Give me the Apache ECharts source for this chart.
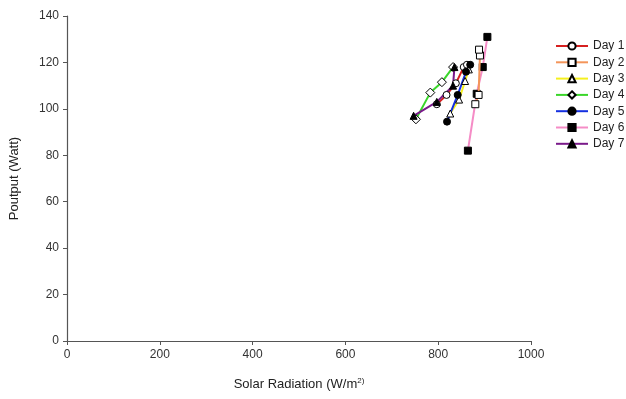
<!DOCTYPE html>
<html>
<head>
<meta charset="utf-8">
<script src="https://cdn.jsdelivr.net/npm/echarts@6/dist/echarts.min.js"></script>
<style>
  html, body { margin: 0; padding: 0; background: #fff; }
  #chart { width: 626px; height: 399px; }
</style>
</head>
<body>
<div id="chart"></div>
<script>
// data: [solar radiation, output]
var day1 = [[797, 102], [818, 106], [838, 111], [855, 118], [862, 119]];
var day2 = [[880, 102], [887, 106], [890, 123], [888, 125.5]];
var day3 = [[826, 98], [845, 104], [858, 112], [866, 117]];
var day4 = [[752, 95.5], [783, 107], [808, 111.5], [832, 118]];
var day5 = [[819, 94.5], [842, 106], [860, 116], [869, 119]];
var day6 = [[864, 82], [883, 106.5], [896, 118], [906, 131]];
var day7 = [[747, 97], [797, 103], [832, 110], [835, 118]];

var dayNames = ['Day 1', 'Day 2', 'Day 3', 'Day 4', 'Day 5', 'Day 6', 'Day 7'];
var dayData = [day1, day2, day3, day4, day5, day6, day7];
var lineColors = ['#d62020', '#f4955a', '#f5f01e', '#3ad62a', '#1530e0', '#f58cc6', '#7a1a8a'];
var symbols = ['circle', 'rect', 'triangle', 'diamond', 'circle', 'rect', 'triangle'];
var filled = [false, false, false, false, true, true, true];

var xTicks = { min: 0, max: 1000, interval: 200 };
var yTicks = { min: 0, max: 140, interval: 20 };

var chart = echarts.init(document.getElementById('chart'));

var series = dayNames.map(function (name, i) {
  return {
    name: name,
    type: 'line',
    data: dayData[i],
    symbol: symbols[i],
    symbolSize: symbols[i] == 'diamond' ? 9 : 7,
    lineStyle: { color: lineColors[i], width: 2 },
    itemStyle: {
      color: filled[i] ? '#000' : '#fff',
      borderColor: '#000',
      borderWidth: 1
    },
    z: i == 5 ? 1 : 2
  };
});

chart.setOption({
  backgroundColor: '#fff',
  animation: false,
  grid: { left: 66, right: 95, top: 16, bottom: 58 },
  legend: {
    orient: 'vertical',
    left: 555,
    top: 38,
    padding: 0,
    itemGap: 0.3,
    itemWidth: 32,
    itemHeight: 9,
    textStyle: { fontFamily: 'Liberation Sans', fontSize: 12, lineHeight: 16, color: '#222' },
    data: dayNames
  },
  xAxis: {
    type: 'value',
    min: xTicks.min, max: xTicks.max, interval: xTicks.interval,
    name: 'Solar Radiation (W/m{sup|2)}',
    nameLocation: 'middle',
    nameGap: 36,
    nameTextStyle: {
      fontFamily: 'Liberation Sans', fontSize: 13, color: '#222',
      rich: { sup: { fontSize: 8, verticalAlign: 'top', padding: [0, 0, 7, 0], color: '#222' } }
    },
    splitLine: { show: false },
    axisLine: { lineStyle: { color: '#555', width: 1.2 } },
    axisTick: { show: true, length: 4, lineStyle: { color: '#555' } },
    axisLabel: {
      fontFamily: 'Liberation Sans', fontSize: 12, color: '#333', margin: 8,
      formatter: function (v) { return String(v); }
    }
  },
  yAxis: {
    type: 'value',
    min: yTicks.min, max: yTicks.max, interval: yTicks.interval,
    name: 'Poutput (Watt)',
    nameLocation: 'middle',
    nameGap: 46,
    nameTextStyle: { fontFamily: 'Liberation Sans', fontSize: 13, color: '#222' },
    splitLine: { show: false },
    axisLine: { show: true, lineStyle: { color: '#555', width: 1.2 } },
    axisTick: { show: true, length: 4, lineStyle: { color: '#555' } },
    axisLabel: { fontFamily: 'Liberation Sans', fontSize: 12, color: '#333', margin: 8 }
  },
  series: series
});
</script>
</body>
</html>
